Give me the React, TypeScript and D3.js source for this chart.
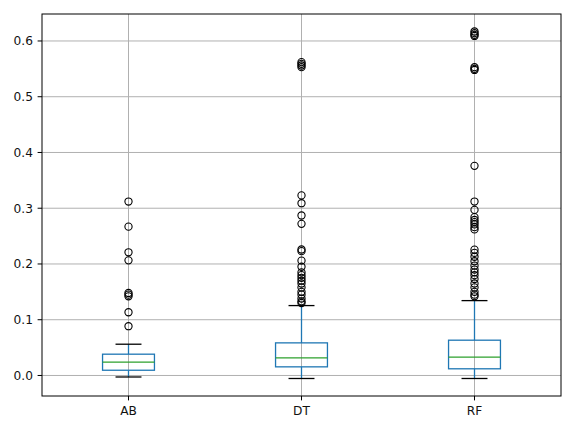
import React from "react";
import * as d3 from "d3";

const categories = ["AB", "DT", "RF"];
// [lowerWhisker, q1, median, q3, upperWhisker]
const boxStats = [
  [-0.0027, 0.0094, 0.0238, 0.0382, 0.0561],
  [-0.0054, 0.0155, 0.0316, 0.0585, 0.1254],
  [-0.0054, 0.012, 0.0328, 0.0633, 0.1343],
];
const outliersAB = [0.312, 0.267, 0.221, 0.2065, 0.148, 0.145, 0.142, 0.1134, 0.0884];
const outliersDT = [
  0.562, 0.559, 0.556, 0.553, 0.323, 0.309, 0.287, 0.272, 0.226, 0.223, 0.206, 0.195,
  0.185, 0.18, 0.175, 0.17, 0.165, 0.158, 0.15, 0.145, 0.138, 0.133, 0.13,
];
const outliersRF = [
  0.617, 0.614, 0.611, 0.609, 0.553, 0.55, 0.548, 0.376, 0.312, 0.297, 0.284, 0.279,
  0.275, 0.271, 0.266, 0.262, 0.2257, 0.22, 0.213, 0.205, 0.197, 0.19, 0.185, 0.18,
  0.173, 0.165, 0.158, 0.15, 0.145, 0.142,
];
const outliers = [outliersAB, outliersDT, outliersRF];
const yTicks = [0.0, 0.1, 0.2, 0.3, 0.4, 0.5, 0.6];

export default function App() {
  const W = 574, H = 431;
  const left = 42, right = 561, top = 14, bottom = 396;
  const x = d3.scaleLinear().domain([0.5, 3.5]).range([left, right]);
  const y = d3.scaleLinear().domain([-0.0368, 0.6484]).range([bottom, top]);
  const boxW = x(1.15) - x(0.85);
  const capW = boxW / 2;
  const font = "DejaVu Sans, sans-serif";
  const fs = 12.2;
  return (
    <svg width={W} height={H} style={{ position: "absolute", left: 0, top: 0, background: "#fff" }}>
      <rect x={0} y={0} width={W} height={H} fill="#fff" />
      {/* grid */}
      {yTicks.map((t) => (
        <line key={"gy" + t} x1={left} x2={right} y1={y(t)} y2={y(t)} stroke="#b0b0b0" strokeWidth={1} />
      ))}
      {categories.map((c, i) => (
        <line key={"gx" + c} x1={x(i + 1)} x2={x(i + 1)} y1={top} y2={bottom} stroke="#b0b0b0" strokeWidth={1} />
      ))}
      {/* boxes */}
      {categories.map((c, i) => {
        const [lo, q1, med, q3, hi] = boxStats[i];
        const cx = x(i + 1);
        return (
          <g key={"b" + c}>
            <line x1={cx} x2={cx} y1={y(q3)} y2={y(hi)} stroke="#1f77b4" strokeWidth={1.3} />
            <line x1={cx} x2={cx} y1={y(q1)} y2={y(lo)} stroke="#1f77b4" strokeWidth={1.3} />
            <line x1={cx - capW / 2} x2={cx + capW / 2} y1={y(hi)} y2={y(hi)} stroke="#000" strokeWidth={1.3} />
            <line x1={cx - capW / 2} x2={cx + capW / 2} y1={y(lo)} y2={y(lo)} stroke="#000" strokeWidth={1.3} />
            <rect x={cx - boxW / 2} y={y(q3)} width={boxW} height={y(q1) - y(q3)} fill="none" stroke="#1f77b4" strokeWidth={1.3} />
            <line x1={cx - boxW / 2} x2={cx + boxW / 2} y1={y(med)} y2={y(med)} stroke="#2ca02c" strokeWidth={1.3} />
            {outliers[i].map((v, j) => (
              <circle key={j} cx={cx} cy={y(v)} r={3.6} fill="none" stroke="#000" strokeWidth={1.1} />
            ))}
          </g>
        );
      })}
      {/* frame */}
      <rect x={left} y={top} width={right - left} height={bottom - top} fill="none" stroke="#000" strokeWidth={1} />
      {/* y ticks */}
      {yTicks.map((t) => (
        <g key={"ty" + t}>
          <line x1={left - 4.4} x2={left} y1={y(t)} y2={y(t)} stroke="#000" strokeWidth={1} />
          <text x={left - 9} y={y(t)} dy="0.35em" textAnchor="end" fontFamily={font} fontSize={fs} fill="#111">
            {d3.format(".1f")(t)}
          </text>
        </g>
      ))}
      {/* x ticks */}
      {categories.map((c, i) => (
        <g key={"tx" + c}>
          <line x1={x(i + 1)} x2={x(i + 1)} y1={bottom} y2={bottom + 4.4} stroke="#000" strokeWidth={1} />
          <text x={x(i + 1)} y={bottom + 9.5} dy="0.76em" textAnchor="middle" fontFamily={font} fontSize={fs} fill="#111">
            {c}
          </text>
        </g>
      ))}
    </svg>
  );
}
